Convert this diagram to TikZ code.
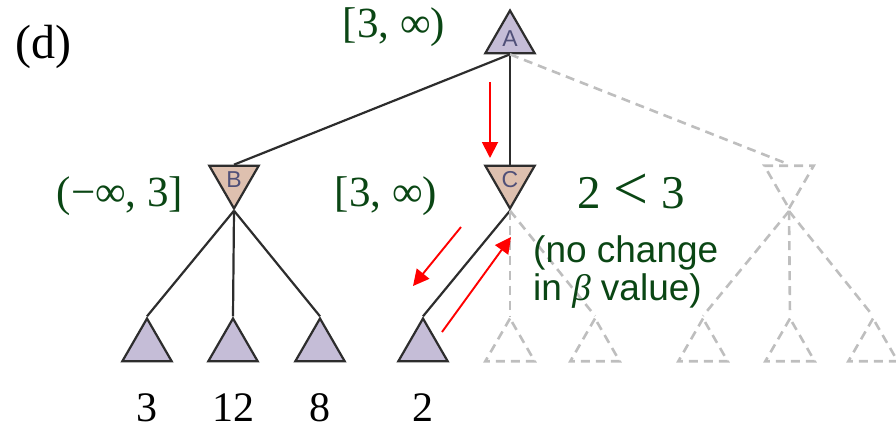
\documentclass[tikz,border=0pt]{standalone}
\usepackage{fontspec}
\setmainfont{Liberation Serif}
\setsansfont{Liberation Sans}
\usetikzlibrary{shapes.geometric,arrows.meta}
\definecolor{lav}{RGB}{197,189,215}
\definecolor{brn}{RGB}{222,192,175}
\definecolor{dgreen}{RGB}{10,70,20}
\definecolor{ghost}{RGB}{190,190,190}
\definecolor{lettercol}{RGB}{80,80,120}
\definecolor{solidline}{RGB}{45,45,45}
\tikzset{
  tri/.style={regular polygon, regular polygon sides=3, minimum size=57pt, inner sep=0pt,
    draw=solidline, line width=2.2pt, font=\sffamily\fontsize{23}{23}\selectfont, text=lettercol},
  maxn/.style={tri, fill=lav},
  minn/.style={tri, fill=brn, shape border rotate=180},
  ghostup/.style={tri, draw=ghost, line width=2.6pt, dash pattern=on 9pt off 6pt},
  ghostdown/.style={ghostup, shape border rotate=180},
  edge/.style={draw=solidline, line width=2.2pt},
  ghostedge/.style={draw=ghost, line width=2.6pt, dash pattern=on 9pt off 6pt},
  redarrow/.style={draw=red, line width=1.9pt, -{Triangle[length=16pt,width=16pt]}},
  lbl/.style={text=dgreen, font=\fontsize{43}{46}\selectfont, inner sep=0pt, anchor=base},
  biglbl/.style={text=dgreen, font=\fontsize{47}{50}\selectfont, inner sep=0pt, anchor=base},
  note/.style={text=dgreen, font=\sffamily\fontsize{37}{38}\selectfont, inner sep=0pt, anchor=base west},
  leaflbl/.style={font=\fontsize{42}{44}\selectfont, inner sep=0pt, anchor=base},
}
\begin{document}
\begin{tikzpicture}[x=1pt,y=-1pt]
\useasboundingbox (0,0) rectangle (896,429);
% nodes
\node[maxn] (A) at (510,39) {A};
\node[minn] (B) at (234,180) {B};
\node[minn] (C) at (510,180) {C};
\node[ghostdown] (D) at (789,180) {};
\node[maxn] (L1) at (147,347) {};
\node[maxn] (L2) at (233,347) {};
\node[maxn] (L3) at (320,347) {};
\node[maxn] (L4) at (423,347) {};
\node[ghostup] (L5) at (510,347) {};
\node[ghostup] (L6) at (595,347) {};
\node[ghostup] (L7) at (703,347) {};
\node[ghostup] (L8) at (790,347) {};
\node[ghostup] (L9) at (873,347) {};
% edges
\draw[edge] (A.side 2) -- (B.side 2);
\draw[edge] (A.side 2) -- (C.side 2);
\draw[ghostedge] (A.side 2) -- (D.side 2);
\draw[edge] (B.corner 1) -- (L1.corner 1);
\draw[edge] (B.corner 1) -- (L2.corner 1);
\draw[edge] (B.corner 1) -- (L3.corner 1);
\draw[edge] (C.corner 1) -- (L4.corner 1);
\draw[ghostedge] (C.corner 1) -- (L5.corner 1);
\draw[ghostedge] (C.corner 1) -- (L6.corner 1);
\draw[ghostedge] (D.corner 1) -- (L7.corner 1);
\draw[ghostedge] (D.corner 1) -- (L8.corner 1);
\draw[ghostedge] (D.corner 1) -- (L9.corner 1);
% red arrows
\coordinate (r1s) at (490,82);
\coordinate (r1e) at (490,158);
\coordinate (r2s) at (461,227);
\coordinate (r2e) at (413,286);
\coordinate (r3s) at (442,332);
\coordinate (r3e) at (511,237);
\draw[redarrow] (r1s) -- (r1e);
\draw[redarrow] (r2s) -- (r2e);
\draw[redarrow] (r3s) -- (r3e);
% labels
\node[leaflbl, font=\fontsize{48}{50}\selectfont] (d) at (43,58) {(d)};
\node[lbl] (la) at (394,37) {[3, ∞)};
\node[lbl] (lb) at (120,206) {(−∞, 3]};
\node[lbl] (lc) at (386,206) {[3, ∞)};
\node[biglbl] (cmp) at (631,208) {2\hspace{13pt}\raisebox{-1pt}{\fontsize{62}{62}\selectfont <}\hspace{13pt}3};
\node[note] (n1) at (533,262) {(no change};
\node[note] (n2) at (533,300) {in {\rmfamily\itshape β} value)};
\node[leaflbl] (v1) at (147,421) {3};
\node[leaflbl] (v2) at (233,421) {12};
\node[leaflbl] (v3) at (320,421) {8};
\node[leaflbl] (v4) at (423,421) {2};
\end{tikzpicture}
\end{document}
